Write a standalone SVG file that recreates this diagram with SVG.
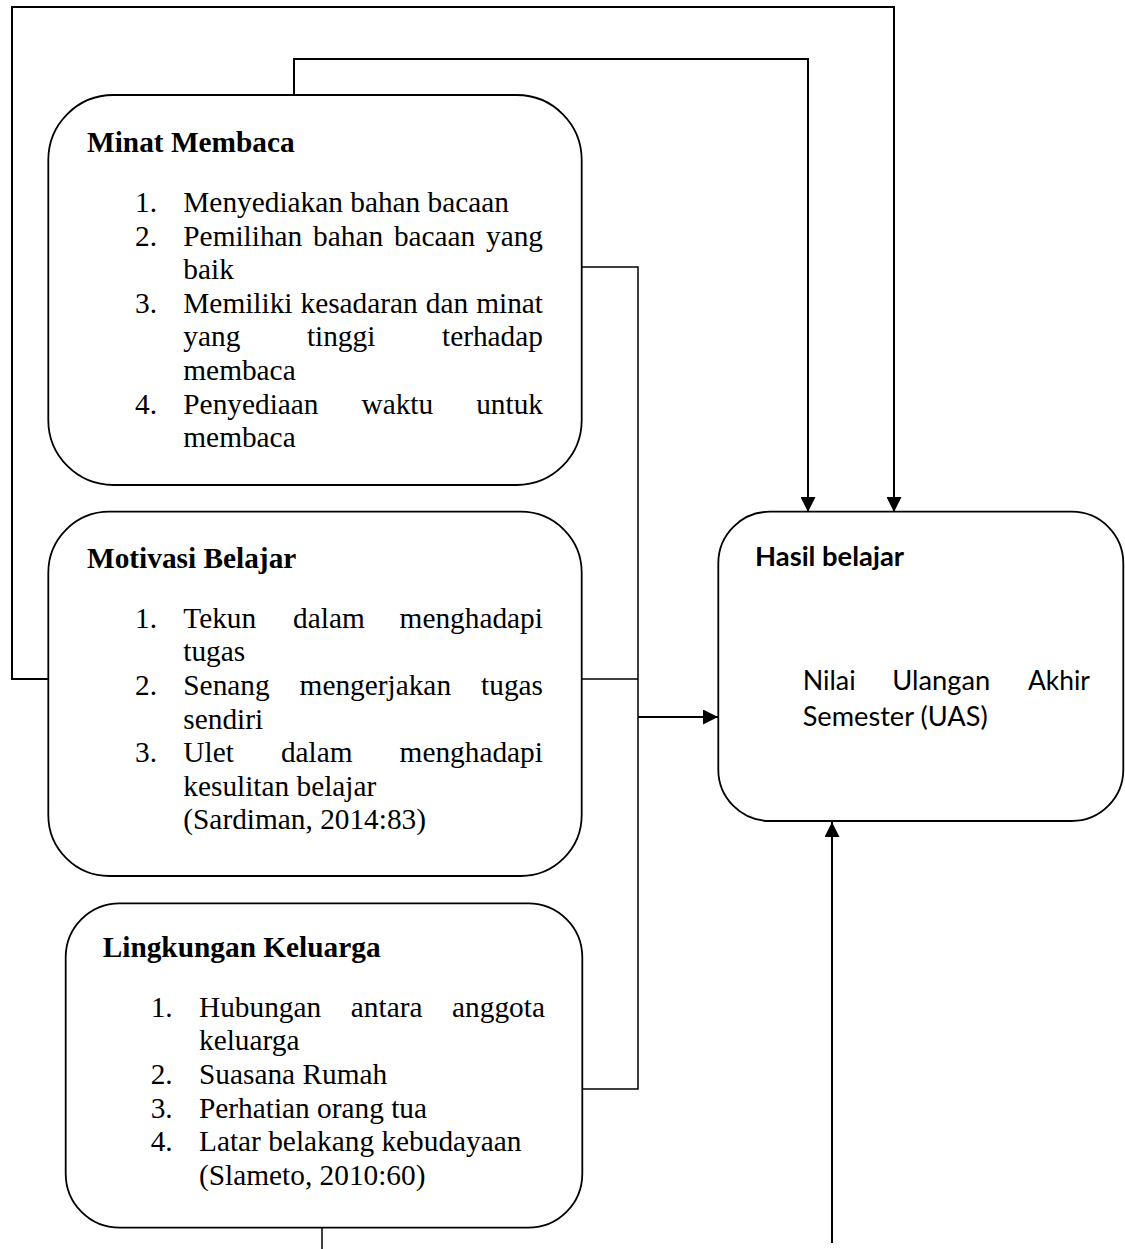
<svg xmlns="http://www.w3.org/2000/svg" width="1125" height="1249" viewBox="0 0 1125 1249">
<defs>
<style>
.box{fill:#fff;stroke:#000;stroke-width:1.8}
.ln{fill:none;stroke:#000;stroke-width:1.5}
.ar{fill:none;stroke:#000;stroke-width:2}
.t{font-family:"Liberation Serif","Times New Roman",serif;font-size:29.33px;fill:#000}
.h{font-family:"Liberation Serif","Times New Roman",serif;font-size:29.33px;font-weight:bold;fill:#000}
.c{font-family:Lato,"Open Sans",sans-serif;font-size:26px;fill:#000}
.cb{font-family:Lato,"Open Sans",sans-serif;font-size:26px;font-weight:bold;fill:#000}
</style>
<marker id="arr" markerUnits="userSpaceOnUse" markerWidth="15" markerHeight="15" refX="15" refY="7.5" orient="auto">
<path d="M0,0 L15,7.5 L0,15 z" fill="#000"/>
</marker>
</defs>
<rect width="1125" height="1249" fill="#fff"/>
<g id="connectors">
<polyline class="ar" points="48,679 12,679 12,7 894,7 894,512" marker-end="url(#arr)"/>
<polyline class="ar" points="294,95 294,59 808,59 808,512" marker-end="url(#arr)"/>
<polyline class="ln" points="582,267 638,267 638,1089 582,1089"/>
<line class="ln" x1="582" y1="679" x2="638" y2="679"/>
<line class="ar" x1="638" y1="717" x2="718" y2="717" marker-end="url(#arr)"/>
<line class="ln" x1="322" y1="1228" x2="322" y2="1249"/>
<line class="ar" x1="832" y1="1243" x2="832" y2="822" marker-end="url(#arr)"/>
</g>
<g id="minat-membaca">
<rect class="box" x="48.3" y="95" width="533.4" height="390" rx="65" ry="65"/>
<text class="h" x="87" y="152">Minat Membaca</text>
<text class="t" x="135" y="212">1.</text>
<text class="t" x="183.3" y="212">Menyediakan bahan bacaan</text>
<text class="t" x="135" y="245.6">2.</text>
<text class="t" y="245.6"><tspan x="183.3">Pemilihan</tspan><tspan x="313.1">bahan</tspan><tspan x="393.9">bacaan</tspan><tspan x="486">yang</tspan></text>
<text class="t" x="183.3" y="279.2">baik</text>
<text class="t" x="135" y="312.8">3.</text>
<text class="t" y="312.8"><tspan x="183.3">Memiliki</tspan><tspan x="300.5">kesadaran</tspan><tspan x="425.8">dan</tspan><tspan x="476.2">minat</tspan></text>
<text class="t" y="346.4"><tspan x="183.3">yang</tspan><tspan x="306.9">tinggi</tspan><tspan x="442">terhadap</tspan></text>
<text class="t" x="183.3" y="380">membaca</text>
<text class="t" x="135" y="413.6">4.</text>
<text class="t" y="413.6"><tspan x="183.3">Penyediaan</tspan><tspan x="361.5">waktu</tspan><tspan x="476.2">untuk</tspan></text>
<text class="t" x="183.3" y="447.2">membaca</text>
</g>
<g id="motivasi-belajar">
<rect class="box" x="48.3" y="511.7" width="533.4" height="364.3" rx="61" ry="61"/>
<text class="h" x="87" y="568">Motivasi Belajar</text>
<text class="t" x="135" y="627.7">1.</text>
<text class="t" y="627.7"><tspan x="183.3">Tekun</tspan><tspan x="293.1">dalam</tspan><tspan x="399.6">menghadapi</tspan></text>
<text class="t" x="183.3" y="661.3">tugas</text>
<text class="t" x="135" y="694.9">2.</text>
<text class="t" y="694.9"><tspan x="183.3">Senang</tspan><tspan x="299.6">mengerjakan</tspan><tspan x="481.1">tugas</tspan></text>
<text class="t" x="183.3" y="728.5">sendiri</text>
<text class="t" x="135" y="762.1">3.</text>
<text class="t" y="762.1"><tspan x="183.3">Ulet</tspan><tspan x="280.9">dalam</tspan><tspan x="399.6">menghadapi</tspan></text>
<text class="t" x="183.3" y="795.7">kesulitan belajar</text>
<text class="t" x="183.3" y="829.3">(Sardiman, 2014:83)</text>
</g>
<g id="lingkungan-keluarga">
<rect class="box" x="65.7" y="903.3" width="516.6" height="324.4" rx="54" ry="54"/>
<text class="h" x="102.7" y="957">Lingkungan Keluarga</text>
<text class="t" x="150.7" y="1016.7">1.</text>
<text class="t" y="1016.7"><tspan x="199">Hubungan</tspan><tspan x="350.8">antara</tspan><tspan x="452.1">anggota</tspan></text>
<text class="t" x="199" y="1050.3">keluarga</text>
<text class="t" x="150.7" y="1083.9">2.</text>
<text class="t" x="199" y="1083.9">Suasana Rumah</text>
<text class="t" x="150.7" y="1117.5">3.</text>
<text class="t" x="199" y="1117.5">Perhatian orang tua</text>
<text class="t" x="150.7" y="1151.1">4.</text>
<text class="t" x="199" y="1151.1">Latar belakang kebudayaan</text>
<text class="t" x="199" y="1184.7">(Slameto, 2010:60)</text>
</g>
<g id="hasil-belajar">
<rect class="box" x="718.3" y="511.7" width="405" height="309.3" rx="51.5" ry="51.5"/>
<text class="cb" x="755" y="566" textLength="149" lengthAdjust="spacingAndGlyphs">Hasil belajar</text>
<text class="c" x="802.7" y="690" textLength="53" lengthAdjust="spacingAndGlyphs">Nilai</text>
<text class="c" x="892.3" y="690" textLength="98" lengthAdjust="spacingAndGlyphs">Ulangan</text>
<text class="c" x="1028" y="690" textLength="62" lengthAdjust="spacingAndGlyphs">Akhir</text>
<text class="c" x="802.7" y="726" textLength="185" lengthAdjust="spacingAndGlyphs">Semester (UAS)</text>
</g>
</svg>
